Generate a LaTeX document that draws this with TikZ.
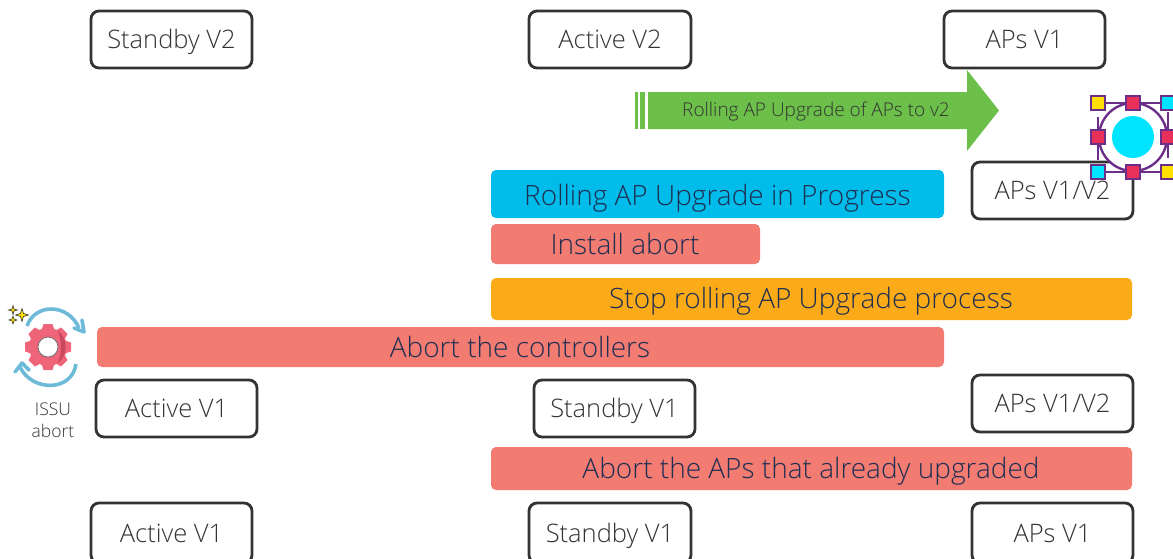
\documentclass[tikz,border=0pt]{standalone}
\usepackage{fontspec}
\setmainfont{Open Sans Light}
\definecolor{barred}{HTML}{F27B72}
\definecolor{barblue}{HTML}{00BCEB}
\definecolor{barorange}{HTML}{FBAB18}
\definecolor{argreen}{HTML}{6CC04A}
\definecolor{inkdark}{HTML}{333333}
\definecolor{barink}{HTML}{1F2F52}
\definecolor{iconpurple}{HTML}{6B2F8A}
\definecolor{iconred}{HTML}{E8305A}
\definecolor{iconcyan}{HTML}{00E5FF}
\definecolor{iconyellow}{HTML}{FFE000}
\definecolor{gearred}{HTML}{EE6479}
\definecolor{geardark}{HTML}{C9485E}
\definecolor{arcblue}{HTML}{6DBBD8}
\tikzset{
  x=1pt,y=-1pt,
  statebox/.style={draw=inkdark,line width=2.8pt,rounded corners=8pt,fill=white,anchor=north west,outer sep=0pt,
    inner sep=0pt,text=inkdark,text height=18pt,text depth=0pt,font=\fontsize{25.5}{26}\selectfont},
  barbox/.style={rounded corners=5pt,anchor=north west,inner sep=0pt,outer sep=0pt},
  bartext/.style={anchor=center,inner sep=0pt,text=barink,text height=20pt,text depth=0pt,font=\fontsize{28}{30}\selectfont},
  sq/.style={draw=iconpurple,line width=2.4pt,minimum size=14.5pt,inner sep=0pt,outer sep=0pt},
  spark/.style={fill=iconyellow,draw=inkdark,line width=0.6pt},
}
\begin{document}
\begin{tikzpicture}
\useasboundingbox (0,0) rectangle (1173,558);
\begin{scope}
\clip (0,0) rectangle (1173,558);
\node[statebox,minimum width=161pt,minimum height=57pt] (sv2) at (91,11) {Standby V2};
\node[statebox,minimum width=162pt,minimum height=57pt] (av2) at (529,11) {Active V2};
\node[statebox,minimum width=161pt,minimum height=57pt] (ap1) at (944,11) {APs V1};
\node[statebox,minimum width=161pt,minimum height=57pt] (ap12) at (972,162) {APs V1/V2};
\node[statebox,minimum width=161pt,minimum height=57pt] (av1) at (96,380) {Active V1};
\node[statebox,minimum width=161pt,minimum height=57pt] (sv1) at (534,380) {Standby V1};
\node[statebox,minimum width=161pt,minimum height=57pt] (ap12b) at (972,375) {APs V1/V2};
\node[statebox,minimum width=161pt,minimum height=60pt] (av1b) at (91,503) {Active V1};
\node[statebox,minimum width=162pt,minimum height=60pt] (sv1b) at (529,503) {Standby V1};
\node[statebox,minimum width=161pt,minimum height=60pt] (ap1b) at (972,503) {APs V1};
\end{scope}
% bars
\node[barbox,fill=barblue,minimum width=453pt,minimum height=48pt] (b1) at (491,170) {};
\node[bartext] (b1t) at (717.5,195) {Rolling AP Upgrade in Progress};
\node[barbox,fill=barred,minimum width=269pt,minimum height=40pt] (b2) at (491,224) {};
\node[bartext] (b2t) at (625,244) {Install abort};
\node[barbox,fill=barorange,minimum width=641pt,minimum height=42pt] (b3) at (491,278) {};
\node[bartext] (b3t) at (811,298) {Stop rolling AP Upgrade process};
\node[barbox,fill=barred,minimum width=847pt,minimum height=40pt] (b4) at (97,327) {};
\node[bartext] (b4t) at (520,347) {Abort the controllers};
\node[barbox,fill=barred,minimum width=641pt,minimum height=43pt] (b5) at (491,447) {};
\node[bartext] (b5t) at (811,468) {Abort the APs that already upgraded};
% green arrow
\fill[argreen] (648,92) -- (967,92) -- (967,70) -- (999,110.5) -- (967,151) -- (967,129) -- (648,129) -- cycle;
\fill[argreen] (635,92) rectangle (638,129);
\fill[argreen] (640,92) rectangle (645,129);
\node[inner sep=0pt,text=inkdark,text height=13.6pt,text depth=0pt,font=\fontsize{19}{20}\selectfont] (arl) at (816,110) {Rolling AP Upgrade of APs to v2};
% network icon
\fill[white] (1133,137) circle (34);
\draw[iconpurple,line width=2.4pt] (1133,137) circle (34);
\draw[iconpurple,line width=2.4pt] (1098,103) -- (1173,103);
\draw[iconpurple,line width=2.4pt] (1098,172) -- (1173,172);
\draw[iconpurple,line width=2.4pt] (1098,117) -- (1098,160);
\draw[iconpurple,line width=2.4pt] (1168,112) -- (1168,158);
\fill[iconcyan] (1133,137) circle (21);
\node[sq,fill=iconyellow] (n1) at (1098,103) {};
\node[sq,fill=iconred] (n2) at (1133,103) {};
\node[sq,fill=iconcyan] (n3) at (1168,103) {};
\node[sq,fill=iconred] (n4) at (1098,137) {};
\node[sq,fill=iconred] (n5) at (1168,137) {};
\node[sq,fill=iconcyan] (n6) at (1098,172) {};
\node[sq,fill=iconred] (n7) at (1133,172) {};
\node[sq,fill=iconyellow] (n8) at (1168,172) {};
% gear icon
\fill[gearred] (48,347) circle (19);
\foreach \a in {0,45,...,315}{
  \fill[gearred,rotate around={\a:(48,347)}] (43.5,324) -- (52.5,324) -- (55,332) -- (41,332) -- cycle;
}
\fill[geardark] (58,331) .. controls (68,338) and (68,356) .. (58,363) .. controls (62,352) and (62,342) .. (58,331) -- cycle;
\fill[white] (48,347) circle (10);
\draw[inkdark!70,line width=0.8pt] (48,347) circle (10);
\draw[arcblue,line width=3.6pt] (27,326) .. controls (35,303) and (68,303) .. (79,328);
\draw[arcblue,line width=3.6pt,line cap=round,line join=round] (82,320) -- (84,332) -- (74,328);
\draw[arcblue,line width=3.6pt] (76,364) .. controls (72,392) and (32,392) .. (20,367);
\draw[arcblue,line width=3.6pt,line cap=round,line join=round] (15,372) -- (22,363) -- (29,370);
\draw[spark] (22,308.5) -- (23.5,313.5) -- (28.5,315) -- (23.5,316.5) -- (22,321.5) -- (20.5,316.5) -- (15.5,315) -- (20.5,313.5) -- cycle;
\draw[spark] (13,305.5) -- (14,309) -- (17.5,310) -- (14,311) -- (13,314.5) -- (12,311) -- (8.5,310) -- (12,309) -- cycle;
\draw[spark] (13,316) -- (14,319) -- (17,320) -- (14,321) -- (13,324) -- (12,321) -- (9,320) -- (12,319) -- cycle;
\node[inner sep=0pt,align=center,text=inkdark,font=\fontsize{17.5}{22}\selectfont] (issu) at (53,420) {ISSU\\abort};
\end{tikzpicture}
\end{document}
